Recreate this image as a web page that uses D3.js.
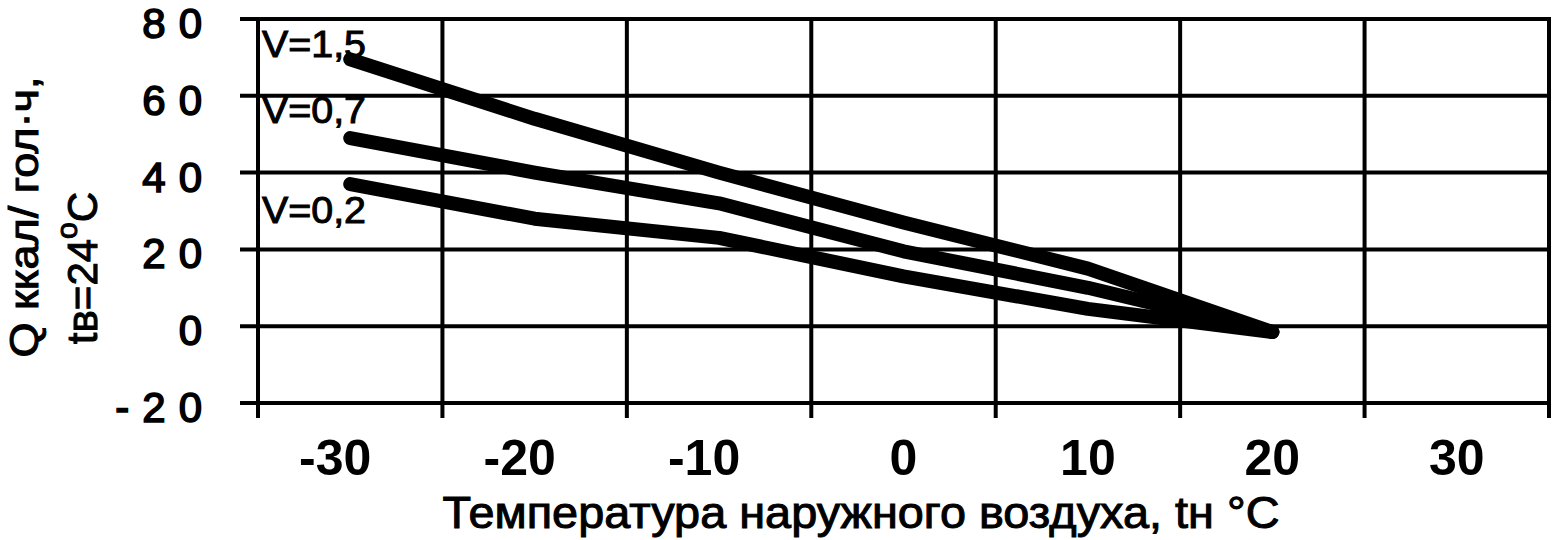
<!DOCTYPE html>
<html><head><meta charset="utf-8">
<script src="https://cdn.jsdelivr.net/npm/d3@7/dist/d3.min.js"></script>
<style>
html,body{margin:0;padding:0;background:#fff;}
svg{display:block;}
</style></head>
<body>
<svg id="chart" width="1555" height="540"></svg>
<script>
// ---- data ----
const categories = ["-30","-20","-10","0","10","20","30"];
const pointCats  = ["-30","-20","-10","0","10","20"];
const seriesNames = ["V=1,5","V=0,7","V=0,2"];
const v15 = [69.5, 54, 40, 27, 15, -1.5];
const v07 = [49, 40, 32, 19.5, 10, -1.5];
const v02 = [37, 28, 23, 13, 4.5, -1.5];
const labelValues = [70, 53, 27];
const yTicks = [80, 60, 40, 20, 0, -20];
const yTitle1 = "Q ккал/ гол·ч,";
const xTitle = "Температура наружного воздуха, tн °C";

const svg = d3.select("#chart");
const L = 258, R = 1549, T = 19, B = 403;
const x = d3.scaleBand().domain(categories).range([L, R]).paddingInner(0).paddingOuter(0);
const y = d3.scaleLinear().domain([-20, 80]).range([B, T]);

const grid = svg.append("g").attr("stroke", "#000").attr("stroke-width", 4);
// horizontal gridlines with left ticks
grid.selectAll("line.h").data(yTicks).join("line")
  .attr("x1", L - 18).attr("x2", R + 2)
  .attr("y1", d => y(d)).attr("y2", d => y(d));
// vertical gridlines at band boundaries, ticks below
const bounds = categories.map(c => x(c)).concat([x(categories[categories.length-1]) + x.bandwidth()]);
grid.selectAll("line.v").data(bounds).join("line")
  .attr("x1", d => d).attr("x2", d => d)
  .attr("y1", T).attr("y2", B + 15);

// y tick labels
svg.append("g").selectAll("text").data(yTicks).join("text")
  .attr("x", 202).attr("y", d => y(d) + 19)
  .attr("text-anchor", "end")
  .attr("font-family", "Liberation Sans, Arial, sans-serif")
  .attr("font-size", 42)
  .attr("stroke", "#000").attr("stroke-width", 1.6)
  .attr("letter-spacing", 13)
  .attr("dx", 13)
  .text(d => String(d));

// x tick labels
svg.append("g").selectAll("text").data(categories).join("text")
  .attr("x", d => x(d) + x.bandwidth()/2 - (d.startsWith("-") ? 15 : 0))
  .attr("y", 475)
  .attr("text-anchor", "middle")
  .attr("font-family", "Liberation Sans Narrow, Arial Narrow, Liberation Sans, sans-serif")
  .attr("font-weight", "bold").attr("font-size", 50)
  .text(d => d);

// series lines
const line = d3.line().x((d, i) => x(pointCats[i]) + x.bandwidth()/2).y(d => y(d));
svg.append("g").selectAll("path").data([v15, v07, v02]).join("path")
  .attr("d", d => line(d))
  .attr("fill", "none").attr("stroke", "#000")
  .attr("stroke-width", 14).attr("stroke-linecap", "round").attr("stroke-linejoin", "round");

// series labels
svg.append("g").selectAll("text").data(seriesNames).join("text")
  .attr("x", L + 4).attr("y", (d, i) => y(labelValues[i]))
  .attr("font-family", "Liberation Sans, Arial, sans-serif")
  .attr("font-size", 37)
  .attr("stroke", "#000").attr("stroke-width", 1)
  .attr("textLength", 104).attr("lengthAdjust", "spacingAndGlyphs")
  .text(d => d);

// x title
svg.append("text")
  .attr("x", 861).attr("y", 528).attr("text-anchor", "middle")
  .attr("font-family", "Liberation Sans, Arial, sans-serif")
  .attr("font-size", 44).attr("stroke", "#000").attr("stroke-width", 1)
  .attr("textLength", 837).attr("lengthAdjust", "spacingAndGlyphs")
  .text(xTitle);

// y title
svg.append("text")
  .attr("transform", "translate(38,217) rotate(-90)")
  .attr("text-anchor", "middle")
  .attr("font-family", "Liberation Sans, Arial, sans-serif")
  .attr("font-size", 40).attr("stroke", "#000").attr("stroke-width", 1)
  .attr("textLength", 281).attr("lengthAdjust", "spacingAndGlyphs")
  .text(yTitle1);

const t2 = svg.append("text")
  .attr("transform", "translate(97,268) rotate(-90)")
  .attr("text-anchor", "middle")
  .attr("font-family", "Liberation Sans, Arial, sans-serif")
  .attr("font-size", 42).attr("stroke", "#000").attr("stroke-width", 1);
t2.append("tspan").text("tв=24");
t2.append("tspan").attr("font-size", 30).attr("dy", -20).text("o");
t2.append("tspan").attr("dy", 20).text("C");
</script>
</body></html>
